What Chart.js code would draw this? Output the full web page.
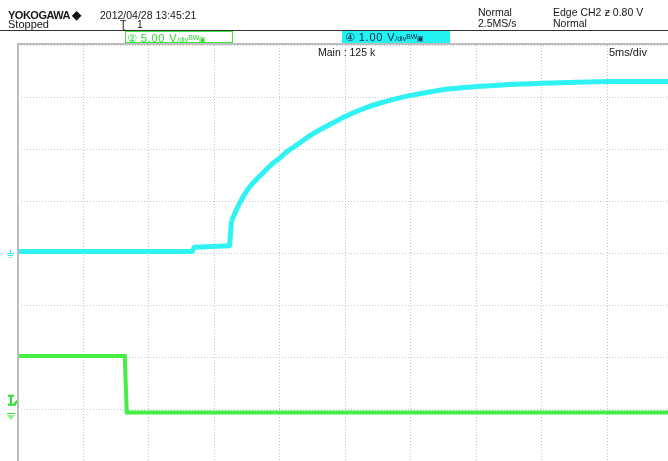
<!DOCTYPE html>
<html><head><meta charset="utf-8">
<script src="https://cdn.jsdelivr.net/npm/chart.js@4/dist/chart.umd.min.js"></script>
<style>
html,body{margin:0;padding:0;background:#fff;overflow:hidden}
#wrap{position:relative;width:668px;height:461px;font-family:"Liberation Sans",Arial,sans-serif;color:#161616}
#c{position:absolute;left:0;top:0}
.t{position:absolute;font-size:10.5px;line-height:10px;white-space:nowrap}
.hl{position:absolute;left:0;top:30px;width:668px;height:1px;background:#333}
.box{position:absolute;top:31px;height:10px;font-size:11px;line-height:11px;white-space:nowrap;letter-spacing:0.8px}
.sm{font-size:7px;letter-spacing:0}
</style></head>
<body><div id="wrap">
<canvas id="c" width="668" height="461"></canvas>
<div class="t" style="left:8px;top:10px;font-size:11px;font-weight:bold;letter-spacing:-0.5px">YOKOGAWA <span style="font-size:12px">&#9670;</span></div>
<div class="t" style="left:100px;top:10px">2012/04/28 13:45:21</div>
<div class="t" style="left:8px;top:19px;font-size:11px">Stopped</div>
<div class="t" style="left:120px;top:19px">&#430;</div>
<div class="t" style="left:137px;top:19px">1</div>
<div class="t" style="left:478px;top:7px">Normal</div>
<div class="t" style="left:478px;top:17.5px">2.5MS/s</div>
<div class="t" style="left:553px;top:7px">Edge CH2 <span style="font-family:'DejaVu Sans'">ƶ</span> 0.80 V</div>
<div class="t" style="left:553px;top:17.5px">Normal</div>
<div class="hl"></div>
<div class="box" style="left:125px;width:106px;border:1px solid #3ee63e;color:#2fd82f;background:#fff">
 <span style="font-family:'DejaVu Sans';margin-left:1px;margin-right:3px">&#9313;</span>5.00 V<span class="sm">/div</span><span class="sm" style="vertical-align:2px">BW</span><span class="sm">&#9635;</span>
</div>
<div class="box" style="left:342px;width:108px;height:12px;background:#22f2f2;color:#102040">
 <span style="font-family:'DejaVu Sans';margin-left:3px;margin-right:3px">&#9315;</span>1.00 V<span class="sm">/div</span><span class="sm" style="vertical-align:2px">BW</span><span class="sm">&#9635;</span>
</div>
<div class="t" style="left:318px;top:46.5px">Main : 125 k</div>
<div class="t" style="left:609px;top:46.5px;font-size:11px">5ms/div</div>
</div>
<script>
const timePerDivMs = 5;
const visibleDivs = 9.924;           // the capture is cropped just before the last division
const voltDivs = 8;

// CH4 (cyan) 1.00 V/div, ground marker at division 4
const ch4VoltsPerDiv = 1.0;
const ch4GroundDiv = 4;
const ch4TimeMs = [0, 13.3, 13.45, 16.15, 16.3, 16.9, 17.5, 18.1, 18.7, 19.3, 20.0, 20.6, 21.3, 22.5, 23.8, 25.1, 26.3, 27.6, 28.9, 30.2, 31.5, 32.7, 35.0, 38.5, 41.9, 45.5, 49.62];
const ch4Volts  = [0.03, 0.03, 0.11, 0.14, 0.62, 0.95, 1.21, 1.39, 1.54, 1.69, 1.83, 1.96, 2.08, 2.29, 2.47, 2.64, 2.77, 2.88, 2.97, 3.04, 3.10, 3.15, 3.20, 3.25, 3.28, 3.30, 3.30];
const ch4JumpIndex = 4;              // sample where the exponential charge starts

// CH2 (green) 5.00 V/div, ground marker at division 1
const ch2VoltsPerDiv = 5.0;
const ch2GroundDiv = 1;
const ch2TimeMs = [0, 8.15, 8.3, 49.62];
const ch2Volts  = [5.1, 5.1, -0.34, -0.34];

function toPoints(ts, vs, vpd, g){ return ts.map((t,i)=>({x:t, y:g + vs[i]/vpd})); }
const ch4Pts = toPoints(ch4TimeMs, ch4Volts, ch4VoltsPerDiv, ch4GroundDiv);
const ch4Flat = ch4Pts.slice(0, ch4JumpIndex + 1);
const ch4Rise = ch4Pts.slice(ch4JumpIndex);

const deco = {
  id:'deco',
  afterDraw(chart){
    const {ctx, chartArea:a, scales:{y}} = chart;
    ctx.save();
    ctx.fillStyle = '#bdbdbd';
    ctx.fillRect(a.left-1, a.top-2, a.right-a.left+1, 2);
    ctx.fillRect(a.left-1, a.top-2, 2, a.bottom-a.top+2);
    const gy4 = y.getPixelForValue(ch4GroundDiv);
    ctx.strokeStyle = '#22e8e8'; ctx.lineWidth = 1;
    ctx.beginPath();
    ctx.moveTo(10.5, gy4-3); ctx.lineTo(10.5, gy4);
    ctx.moveTo(7, gy4+0.5); ctx.lineTo(14, gy4+0.5);
    ctx.moveTo(8, gy4+2.5); ctx.lineTo(13, gy4+2.5);
    ctx.moveTo(9.5, gy4+4.5); ctx.lineTo(11.5, gy4+4.5);
    ctx.stroke();
    ctx.strokeStyle = '#2ee02e'; ctx.fillStyle = '#2ee02e'; ctx.lineWidth = 2;
    const ty = y.getPixelForValue(ch2GroundDiv + 0.80/ch2VoltsPerDiv);
    ctx.beginPath();
    ctx.moveTo(8, ty-5); ctx.lineTo(14, ty-5);
    ctx.moveTo(11, ty-5); ctx.lineTo(11, ty+3);
    ctx.moveTo(8, ty+4); ctx.lineTo(16, ty+4);
    ctx.stroke();
    ctx.beginPath(); ctx.moveTo(13, ty+3); ctx.lineTo(17, ty+3); ctx.lineTo(17, ty-1); ctx.closePath(); ctx.fill();
    const gy2 = y.getPixelForValue(ch2GroundDiv);
    ctx.lineWidth = 1;
    ctx.beginPath();
    ctx.moveTo(7, gy2+4.5); ctx.lineTo(15, gy2+4.5); ctx.stroke();
    ctx.fillStyle = '#8cf28c';
    ctx.beginPath(); ctx.moveTo(7, gy2+6); ctx.lineTo(15, gy2+6); ctx.lineTo(11, gy2+11); ctx.closePath(); ctx.fill();
    ctx.restore();
  }
};

const cyanStyle = {borderColor:'#2ff2f2', borderWidth:5, pointRadius:0, fill:false, borderJoinStyle:'round', borderCapStyle:'butt'};
new Chart(document.getElementById('c'), {
  type:'line',
  data:{datasets:[
    Object.assign({data:ch4Flat, tension:0}, cyanStyle),
    Object.assign({data:ch4Rise, cubicInterpolationMode:'monotone'}, cyanStyle),
    {data:ch4Rise, borderColor:'rgba(10,90,90,0.45)', borderWidth:1, borderDash:[1,7], pointRadius:0, cubicInterpolationMode:'monotone', fill:false},
    {data:toPoints(ch2TimeMs, ch2Volts, ch2VoltsPerDiv, ch2GroundDiv), borderColor:'#44ee44', borderWidth:4, pointRadius:0, tension:0, fill:false, borderJoinStyle:'miter'}
  ]},
  options:{
    responsive:false, animation:false, devicePixelRatio:1,
    layout:{padding:{left:18, top:45, right:0, bottom:0}},
    plugins:{legend:{display:false}, tooltip:{enabled:false}},
    scales:{
      x:{type:'linear', min:0, max:visibleDivs*timePerDivMs,
         ticks:{display:false, stepSize:timePerDivMs},
         grid:{color:'#c4c4c4', lineWidth:1, drawTicks:false},
         border:{display:false, dash:[1,2]}},
      y:{type:'linear', min:0, max:voltDivs,
         ticks:{display:false, stepSize:1},
         grid:{color:'#c4c4c4', lineWidth:1, drawTicks:false},
         border:{display:false, dash:[1,2]}}
    }
  },
  plugins:[deco]
});
</script>
</body></html>
